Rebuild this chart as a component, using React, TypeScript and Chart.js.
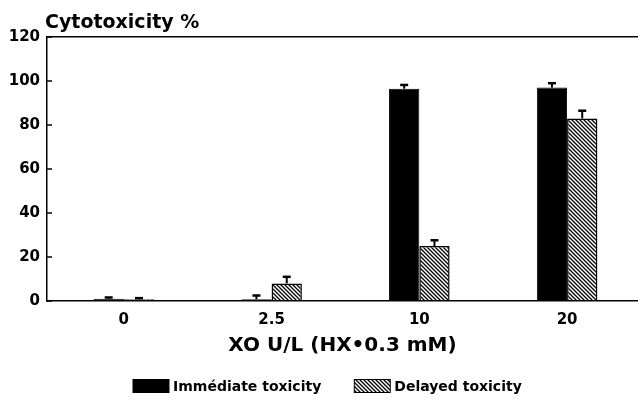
import { useEffect, useRef } from 'react';
import { Chart, registerables } from 'chart.js';

Chart.register(...registerables);

const categories = ['0', '2.5', '10', '20'];
const immediate = [1, 0.8, 96.5, 97];
const immediateErr = [0.6, 1.7, 1.7, 2];
const delayed = [0.8, 8, 25, 83];
const delayedErr = [0.5, 3, 2.6, 3.5];
const yTicks = [0, 20, 40, 60, 80, 100, 120];
const seriesLabels = ['Immédiate toxicity', 'Delayed toxicity'];
const titleText = 'Cytotoxicity %';
const xTitle = 'XO U/L (HX•0.3 mM)';

const FONT = "'DejaVu Sans', 'Liberation Sans', sans-serif";

function makeHatch(): CanvasPattern | string {
  const c = document.createElement('canvas');
  c.width = 4;
  c.height = 4;
  const g = c.getContext('2d');
  if (!g) return '#888';
  g.fillStyle = '#fff';
  g.fillRect(0, 0, 4, 4);
  g.strokeStyle = '#000';
  g.lineWidth = 1.3;
  g.beginPath();
  g.moveTo(-1, -1);
  g.lineTo(5, 5);
  g.moveTo(-1, 3);
  g.lineTo(1, 5);
  g.moveTo(3, -1);
  g.lineTo(5, 1);
  g.stroke();
  const p = g.createPattern(c, 'repeat');
  return p || '#888';
}

const errorBarPlugin = {
  id: 'errorBars',
  afterDatasetsDraw(chart: any) {
    const ctx = chart.ctx;
    const ys = chart.scales.y;
    const errs = [immediateErr, delayedErr];
    chart.data.datasets.forEach((ds: any, di: number) => {
      const meta = chart.getDatasetMeta(di);
      meta.data.forEach((bar: any, i: number) => {
        const v = ds.data[i].y;
        const base = ys.getPixelForValue(v);
        const top = ys.getPixelForValue(v + errs[di][i]);
        ctx.save();
        ctx.strokeStyle = '#000';
        ctx.lineWidth = 2;
        ctx.beginPath();
        ctx.moveTo(bar.x, base);
        ctx.lineTo(bar.x, top);
        ctx.stroke();
        ctx.lineWidth = 2.5;
        ctx.beginPath();
        ctx.moveTo(bar.x - 4, top);
        ctx.lineTo(bar.x + 4, top);
        ctx.stroke();
        ctx.restore();
      });
    });
  },
};

const decorPlugin = {
  id: 'decor',
  afterDraw(chart: any) {
    const ctx = chart.ctx;
    const area = chart.chartArea;
    const ys = chart.scales.y;
    ctx.save();
    ctx.strokeStyle = '#000';
    ctx.lineWidth = 1.5;
    yTicks.forEach((v) => {
      const py = ys.getPixelForValue(v);
      ctx.beginPath();
      ctx.moveTo(area.left, py);
      ctx.lineTo(area.left + 5, py);
      ctx.stroke();
    });
    ctx.fillStyle = '#000';
    ctx.font = `bold 19px ${FONT}`;
    ctx.textBaseline = 'alphabetic';
    ctx.textAlign = 'left';
    ctx.fillText(titleText, area.left - 2, 28);
    ctx.font = `bold 14px ${FONT}`;
    ctx.textBaseline = 'middle';
    const cy = chart.height - 14;
    let x = area.left + 86;
    seriesLabels.forEach((label, i) => {
      const ds = chart.data.datasets[i];
      const bw = 36;
      const bh = 13;
      ctx.fillStyle = ds.backgroundColor;
      ctx.fillRect(x, cy - bh / 2, bw, bh);
      ctx.strokeStyle = '#000';
      ctx.lineWidth = 1;
      ctx.strokeRect(x, cy - bh / 2, bw, bh);
      ctx.fillStyle = '#000';
      ctx.fillText(label, x + bw + 4, cy + 1);
      x += bw + 4 + ctx.measureText(label).width + 33;
    });
    ctx.restore();
  },
};

export default function App() {
  const ref = useRef<HTMLCanvasElement | null>(null);

  useEffect(() => {
    if (!ref.current) return;
    const hatch = makeHatch();
    const tickFont = { family: FONT, size: 15, weight: 'bold' as const };
    const chart = new Chart(ref.current, {
      type: 'bar',
      data: {
        datasets: [
          {
            label: seriesLabels[0],
            data: immediate.map((v, i) => ({ x: i, y: v })),
            backgroundColor: '#000',
            borderColor: '#000',
            borderWidth: 1,
            categoryPercentage: 0.41,
            barPercentage: 1,
          },
          {
            label: seriesLabels[1],
            data: delayed.map((v, i) => ({ x: i, y: v })),
            backgroundColor: hatch as any,
            borderColor: '#000',
            borderWidth: 1.5,
            categoryPercentage: 0.41,
            barPercentage: 1,
          },
        ],
      },
      options: {
        animation: false,
        responsive: false,
        maintainAspectRatio: false,
        layout: { padding: { top: 37, right: 0, bottom: 42, left: 0 } },
        scales: {
          x: {
            type: 'linear',
            offset: false,
            min: -0.52,
            max: 3.48,
            afterBuildTicks: (s: any) => {
              s.ticks = categories.map((_, i) => ({ value: i }));
            },
            afterFit: (s: any) => {
              s.height = 57;
            },
            grid: { display: false, drawTicks: false },
            border: { color: '#000', width: 1.5 },
            ticks: {
              callback: (v: any) => categories[v] ?? '',
              font: tickFont,
              color: '#000',
              padding: 10,
              autoSkip: false,
              maxRotation: 0,
            },
            title: {
              display: true,
              text: xTitle,
              color: '#000',
              font: { family: FONT, size: 20, weight: 'bold' },
              padding: 0,
            },
          },
          y: {
            min: 0,
            max: 120,
            afterBuildTicks: (s: any) => {
              s.ticks = yTicks.map((v) => ({ value: v }));
            },
            afterFit: (s: any) => {
              s.width = 47;
            },
            grid: {
              color: (c: any) => (c.tick && c.tick.value === 120 ? '#000' : 'rgba(0,0,0,0)'),
              lineWidth: 1.5,
              drawTicks: false,
            },
            border: { color: '#000', width: 1.5 },
            ticks: { font: tickFont, color: '#000', padding: 7 },
          },
        },
        plugins: {
          legend: { display: false },
          tooltip: { enabled: false },
        },
      } as any,
      plugins: [errorBarPlugin, decorPlugin],
    });
    return () => chart.destroy();
  }, []);

  return (
    <div style={{ position: 'absolute', left: 0, top: 0, width: 638, height: 400, background: '#fff' }}>
      <canvas ref={ref} width={638} height={400} />
    </div>
  );
}
